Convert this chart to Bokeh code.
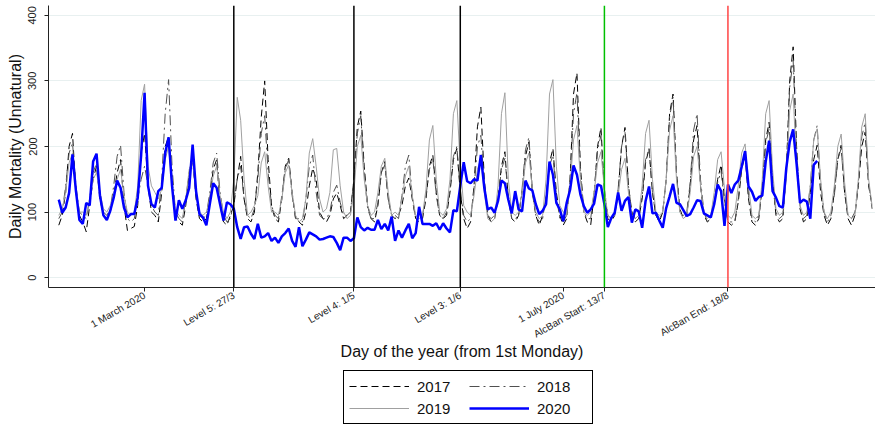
import math
from bokeh.plotting import figure
from bokeh.layouts import column
from bokeh.models import (ColumnDataSource, Span, FixedTicker, Legend, LegendItem, Range1d)
from bokeh.embed import file_html
from bokeh.resources import INLINE

# ---------------- data ----------------
start_day = 36                     # first plotted day (day of year, 2020 calendar)
tick_days = [61, 87, 122, 153, 183, 195, 231]
tick_labels = ["1 March 2020", "Level 5: 27/3", "Level 4: 1/5", "Level 3: 1/6",
               "1 July 2020", "AlcBan Start: 13/7", "AlcBan End: 18/8"]
level_days = [87, 122, 153]
alcban_start = 195
alcban_end = 231
y_ticks = [0, 100, 200, 300, 400]
series_names = ["2017", "2018", "2019", "2020"]

y2017 = [
    80, 95, 130, 200, 220, 130, 95,
    85, 70, 110, 150, 170, 120, 95,
    90, 100, 125, 160, 180, 110, 72,
    75, 78, 110, 190, 220, 140, 100,
    95, 85, 130, 200, 215, 150, 90,
    85, 80, 110, 160, 185, 120, 90,
    85, 90, 120, 165, 180, 110, 85,
    80, 95, 110, 150, 185, 120, 90,
    85, 100, 160, 245, 300, 180, 110,
    90, 85, 120, 170, 182, 130, 90,
    85, 80, 100, 140, 167, 150, 100,
    90, 85, 95, 120, 129, 110, 90,
    95, 100, 150, 230, 254, 170, 110,
    90, 85, 110, 160, 177, 120, 95,
    90, 95, 110, 140, 152, 120, 90,
    85, 90, 120, 170, 187, 130, 95,
    90, 95, 130, 180, 197, 130, 90,
    75, 85, 140, 230, 260, 150, 95,
    85, 90, 120, 170, 192, 120, 90,
    85, 95, 130, 185, 207, 130, 95,
    80, 95, 120, 175, 197, 130, 95,
    80, 90, 150, 280, 312, 170, 100,
    85, 80, 125, 200, 229, 130, 90,
    85, 95, 130, 200, 229, 140, 100,
    85, 90, 120, 175, 197, 130, 95,
    85, 100, 150, 250, 280, 160, 105,
    90, 95, 140, 210, 232, 140, 95,
    85, 90, 115, 150, 172, 120, 85,
    80, 85, 115, 165, 187, 120, 85,
    80, 90, 140, 210, 237, 150, 95,
    85, 90, 160, 300, 352, 200, 105,
    85, 90, 130, 180, 202, 130, 95,
    80, 90, 130, 180, 202, 130, 90,
    80, 95, 140, 200, 222, 140, 110,
]

y2018 = [
    90, 100, 140, 190, 205, 140, 100,
    95, 90, 120, 160, 175, 130, 100,
    95, 105, 140, 185, 202, 130, 90,
    85, 90, 120, 150, 170, 140, 110,
    100, 95, 150, 250, 302, 170, 100,
    90, 85, 120, 160, 175, 130, 95,
    90, 95, 130, 175, 190, 130, 95,
    85, 90, 115, 150, 170, 120, 95,
    90, 105, 150, 220, 247, 160, 110,
    95, 90, 125, 165, 180, 125, 90,
    90, 85, 120, 170, 187, 130, 95,
    90, 90, 100, 130, 141, 115, 95,
    95, 100, 150, 220, 247, 160, 105,
    90, 90, 115, 160, 172, 120, 95,
    95, 90, 125, 170, 187, 125, 90,
    90, 95, 125, 165, 182, 125, 95,
    90, 100, 135, 185, 200, 135, 95,
    85, 90, 135, 200, 217, 140, 95,
    90, 95, 120, 165, 182, 125, 90,
    90, 95, 135, 195, 214, 135, 95,
    85, 90, 125, 170, 187, 125, 90,
    85, 95, 150, 250, 282, 160, 100,
    90, 90, 130, 195, 217, 135, 95,
    90, 95, 135, 200, 222, 140, 100,
    90, 95, 125, 180, 197, 130, 95,
    90, 100, 150, 245, 275, 160, 100,
    95, 100, 145, 225, 250, 150, 100,
    85, 90, 115, 145, 162, 115, 85,
    85, 85, 120, 170, 187, 125, 90,
    85, 95, 135, 205, 227, 145, 100,
    90, 95, 160, 290, 332, 190, 110,
    90, 95, 140, 210, 232, 145, 100,
    85, 95, 125, 180, 197, 130, 95,
    90, 100, 145, 215, 237, 145, 105,
]

y2019 = [
    95, 105, 130, 175, 190, 135, 100,
    100, 95, 120, 150, 160, 130, 105,
    100, 110, 125, 150, 165, 125, 100,
    95, 100, 140, 270, 295, 170, 140,
    130, 120, 135, 180, 200, 140, 105,
    95, 90, 120, 165, 180, 130, 100,
    95, 100, 120, 155, 170, 125, 100,
    90, 100, 150, 275, 240, 150, 95,
    100, 110, 125, 175, 192, 140, 100,
    100, 95, 120, 160, 172, 130, 95,
    85, 90, 120, 190, 212, 170, 120,
    100, 105, 130, 195, 197, 140, 100,
    90, 95, 130, 200, 217, 150, 110,
    95, 100, 130, 170, 182, 130, 95,
    100, 95, 120, 155, 170, 125, 95,
    90, 95, 135, 210, 232, 150, 100,
    95, 105, 150, 250, 270, 170, 110,
    100, 95, 125, 165, 182, 130, 90,
    85, 90, 140, 250, 282, 150, 100,
    95, 100, 130, 175, 190, 135, 100,
    90, 95, 150, 280, 302, 170, 110,
    100, 95, 140, 210, 232, 150, 100,
    95, 100, 130, 175, 192, 135, 95,
    90, 95, 125, 165, 182, 130, 95,
    90, 95, 140, 220, 240, 150, 100,
    95, 100, 150, 225, 247, 150, 100,
    90, 95, 130, 185, 200, 140, 100,
    90, 95, 130, 180, 192, 135, 95,
    90, 100, 140, 190, 204, 140, 95,
    90, 95, 150, 250, 270, 165, 105,
    95, 100, 150, 255, 280, 170, 110,
    95, 100, 140, 210, 227, 150, 100,
    90, 100, 140, 200, 219, 145, 95,
    90, 95, 150, 230, 250, 150, 110,
]

y2020 = [
    119, 99, 107, 129, 188, 132, 88,
    82, 114, 110, 177, 189, 125, 95,
    88, 102, 122, 148, 137, 107, 92,
    97, 97, 122, 187, 282, 140, 112,
    107, 132, 137, 190, 214, 140, 87,
    118, 105, 118, 137, 203, 132, 97,
    92, 80, 112, 144, 137, 112, 87,
    115, 112, 105, 77, 59, 77, 78,
    67, 59, 82, 61, 63, 68, 56,
    61, 53, 63, 68, 75, 56, 47,
    77, 48, 58, 69, 66, 63, 58,
    59, 61, 63, 62, 53, 42, 61,
    61, 56, 60, 92, 77, 72, 76,
    73, 73, 88, 74, 82, 72, 93,
    56, 72, 61, 72, 82, 60, 68,
    108, 82, 82, 82, 79, 83, 73,
    83, 75, 69, 103, 101, 140, 176,
    147, 144, 150, 148, 187, 137, 104,
    107, 99, 117, 148, 144, 119, 98,
    132, 104, 101, 148, 136, 133, 112,
    97, 102, 112, 177, 157, 114, 104,
    86, 114, 134, 171, 157, 127, 109,
    99, 104, 113, 142, 140, 112, 77,
    91, 99, 130, 102, 117, 123, 84,
    104, 101, 76, 117, 139, 98, 99,
    87, 76, 106, 124, 143, 114, 112,
    103, 94, 97, 107, 118, 117, 98,
    95, 92, 112, 142, 132, 79, 142,
    129, 142, 148, 169, 193, 139, 131,
    117, 123, 125, 177, 209, 132, 122,
    109, 107, 167, 207, 226, 174, 114,
    119, 116, 90, 172, 178,
]

# ---------------- styles ----------------
FONT = "Liberation Sans"
styles = [
    dict(line_color="black", line_width=1, line_dash="7 4"),
    dict(line_color="#505050", line_width=1, line_dash="10 4 2 4"),
    dict(line_color="#a0a0a0", line_width=1),
    dict(line_color="#0000ff", line_width=2.5),
]

days_prev = list(range(start_day, start_day + len(y2017)))
days_2020 = list(range(start_day, start_day + len(y2020)))
series_x = [days_prev, days_prev, days_prev, days_2020]
series_y = [y2017, y2018, y2019, y2020]

# ---------------- main chart ----------------
p = figure(width=875, height=363, output_backend="svg", toolbar_location=None,
           x_range=(33, 274), y_range=(-15, 415),
           min_border_left=48, min_border_right=0, min_border_top=5, min_border_bottom=72)
p.outline_line_color = None
p.background_fill_color = "white"

for xs, ys, st in zip(series_x, series_y, styles):
    p.line(xs, ys, **st)

for d in level_days:
    p.add_layout(Span(location=d, dimension="height", line_color="black", line_width=1.5))
p.add_layout(Span(location=alcban_start, dimension="height", line_color="#00c000", line_width=1.5))
p.add_layout(Span(location=alcban_end, dimension="height", line_color="#ff4444", line_width=1.5))

p.xgrid.visible = False
p.ygrid.grid_line_color = "#e8f0f0"
p.ygrid.ticker = FixedTicker(ticks=y_ticks)

xa = p.xaxis[0]
xa.ticker = FixedTicker(ticks=tick_days)
xa.major_label_overrides = {d: t for d, t in zip(tick_days, tick_labels)}
xa.major_label_orientation = math.pi / 6
xa.major_label_text_font = FONT
xa.major_label_text_font_size = "10px"
xa.major_label_text_color = "#222222"
xa.major_tick_out = 4
xa.major_tick_in = 0
xa.minor_tick_out = 0
xa.minor_tick_in = 0
xa.axis_line_color = "#222222"
xa.major_tick_line_color = "#222222"
xa.axis_label = "Day of the year (from 1st Monday)"
xa.axis_label_text_font = FONT
xa.axis_label_text_font_size = "16px"
xa.axis_label_text_font_style = "normal"
xa.axis_label_text_color = "#111111"
xa.axis_label_standoff = -4
xa.major_label_standoff = 3

ya = p.yaxis[0]
ya.ticker = FixedTicker(ticks=y_ticks)
ya.major_label_orientation = "vertical"
ya.major_label_text_font = FONT
ya.major_label_text_font_size = "11px"
ya.major_label_text_color = "#222222"
ya.major_tick_out = 4
ya.major_tick_in = 0
ya.minor_tick_out = 0
ya.minor_tick_in = 0
ya.axis_line_color = "#222222"
ya.major_tick_line_color = "#222222"
ya.axis_label = "Daily Mortality (Unnatural)"
ya.axis_label_text_font = FONT
ya.axis_label_text_font_size = "16px"
ya.axis_label_text_font_style = "normal"
ya.axis_label_text_color = "#111111"
ya.axis_label_standoff = 2
ya.major_label_standoff = 8

# ---------------- legend strip ----------------
# The same series are drawn here with a y range that keeps them out of view,
# so that the legend below the chart has real glyphs to show.
lf = figure(width=875, height=62, output_backend="svg", toolbar_location=None,
            x_range=Range1d(33, 274), y_range=Range1d(-2, -1),
            min_border_left=0, min_border_right=0, min_border_top=0, min_border_bottom=0)
lf.axis.visible = False
lf.grid.visible = False
lf.outline_line_color = None
items = []
for name, xs, ys, st in zip(series_names, series_x, series_y, styles):
    r = lf.line(xs, ys, **st)
    items.append(LegendItem(label=name, renderers=[r]))

legend = Legend(items=items, orientation="horizontal", ncols=2,
                location=(295, 1),
                glyph_width=60, glyph_height=20, label_standoff=8,
                label_width=50, spacing=2, padding=5, margin=0,
                label_text_font=FONT, label_text_font_size="15px",
                label_text_color="#111111",
                border_line_color="black", border_line_width=1, border_line_alpha=1,
                background_fill_color="white", background_fill_alpha=1)
lf.add_layout(legend, "center")

layout = column(p, lf, spacing=0)
open("out.html", "w").write(file_html(layout, INLINE))
